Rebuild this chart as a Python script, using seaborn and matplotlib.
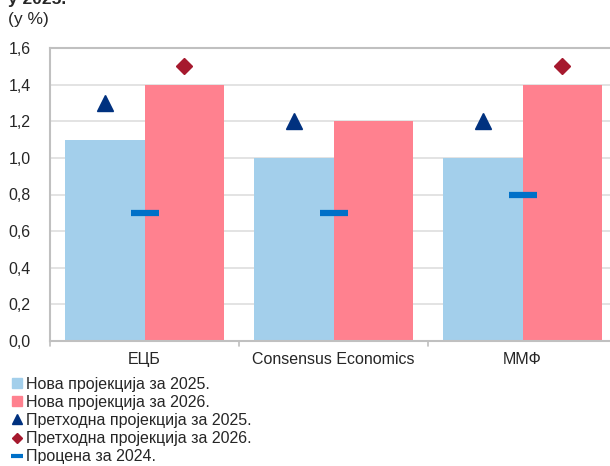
import numpy as np
import pandas as pd
import matplotlib
matplotlib.use("Agg")
import matplotlib.pyplot as plt
import seaborn as sns
from matplotlib.lines import Line2D

# podaci
institucije = ["ЕЦБ", "Consensus Economics", "ММФ"]
nova_2025 = [1.1, 1.0, 1.0]
nova_2026 = [1.4, 1.2, 1.4]
prethodna_2025 = [1.3, 1.2, 1.2]
prethodna_2026 = [1.5, np.nan, 1.5]
procena_2024 = [0.7, 0.7, 0.8]
y_ticks = [0.0, 0.2, 0.4, 0.6, 0.8, 1.0, 1.2, 1.4, 1.6]

serije = ["Нова пројекција за 2025.", "Нова пројекција за 2026."]
df = pd.DataFrame({
    "Институција": institucije * 2,
    "Серија": [serije[0]] * 3 + [serije[1]] * 3,
    "Вредност": nova_2025 + nova_2026,
})

c_plava = "#A3CFEB"
c_roza = "#FF818F"
c_trougao = "#00317F"
c_romb = "#A6192E"
c_crta = "#0070C8"

sns.set_style("white")
plt.rcParams["font.family"] = ["Liberation Sans", "DejaVu Sans"]

fig = plt.figure(figsize=(6.1, 4.66), dpi=100)
ax = fig.add_axes([50 / 610, 125 / 466, 567 / 610, 293 / 466])

bar_w = 0.836
sns.barplot(data=df, x="Институција", y="Вредност", hue="Серија",
            palette=[c_plava, c_roza], width=bar_w, dodge=True,
            saturation=1, errorbar=None, legend=False, ax=ax, zorder=2,
            linewidth=0)

off = bar_w / 4
xs = np.arange(len(institucije))
ax.plot(xs - off, prethodna_2025, ls="none", marker="^", ms=11,
        color=c_trougao, mec=c_trougao, zorder=4, clip_on=False)
ax.plot(xs + off, prethodna_2026, ls="none", marker="D", ms=8,
        color=c_romb, mec=c_romb, zorder=4, clip_on=False)
ax.plot(xs, procena_2024, ls="none", marker="_", ms=20, mew=4.5,
        color=c_crta, zorder=4)

ax.set_xlim(-0.5, 2.5)
ax.set_ylim(0, 1.6)
ax.set_yticks(y_ticks)
ax.set_yticklabels([f"{v:.1f}".replace(".", ",") for v in y_ticks], fontsize=11.5)
ax.set_xticks(xs)
ax.set_xticklabels(institucije, fontsize=11.5)
ax.set_xlabel("")
ax.set_ylabel("")
ax.tick_params(axis="y", length=0, pad=14)
ax.tick_params(axis="x", length=0, pad=8)

# mali podeoci na granicama grupa
for b in [-0.5, 0.5, 1.5, 2.5]:
    ax.plot([b, b], [0, -0.025], color="#bfbfbf", lw=1.2, clip_on=False,
            zorder=1)

ax.grid(axis="y", color="#e3e3e3", lw=1.4, zorder=0)
ax.set_axisbelow(True)
for s in ["left", "bottom", "top"]:
    ax.spines[s].set_color("#c0c0c0")
    ax.spines[s].set_linewidth(1.5)
ax.spines["right"].set_visible(False)

fig.text(8 / 610, 1 - 4 / 466, "у 2025.", fontsize=12.5, fontweight="bold",
         va="baseline", ha="left")
fig.text(8 / 610, 1 - 24 / 466, "(у %)", fontsize=12.5, va="baseline", ha="left")

handles = [
    Line2D([], [], ls="none", marker="s", ms=7, color=c_plava),
    Line2D([], [], ls="none", marker="s", ms=7, color=c_roza),
    Line2D([], [], ls="none", marker="^", ms=7, color=c_trougao),
    Line2D([], [], ls="none", marker="D", ms=5, color=c_romb),
    Line2D([], [], ls="none", marker="_", ms=8, mew=3, color=c_crta),
]
labels = serije + ["Претходна пројекција за 2025.",
                   "Претходна пројекција за 2026.", "Процена за 2024."]
fig.legend(handles, labels, loc="upper left",
           bbox_to_anchor=(12 / 610, 1 - 377 / 466), frameon=False,
           fontsize=11.5, handlelength=0.6, handletextpad=0.3,
           labelspacing=0.19, borderpad=0, borderaxespad=0)

fig.savefig("out.png", dpi=100)
